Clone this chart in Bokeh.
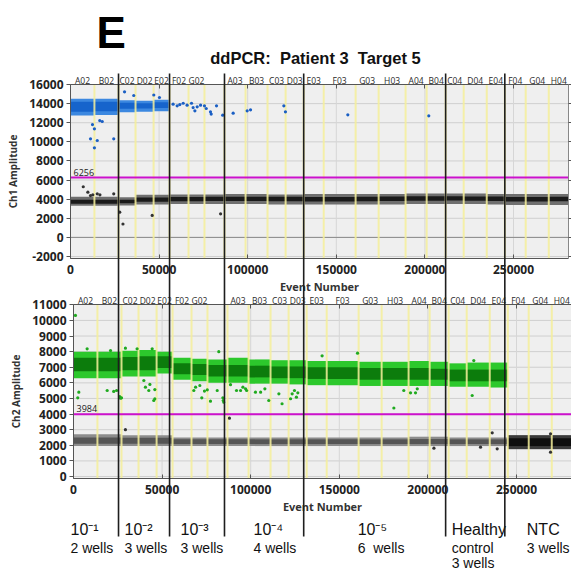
import numpy as np
from bokeh.plotting import figure
from bokeh.models import Range1d, LinearAxis, FixedTicker, NumeralTickFormatter
from bokeh.embed import file_html
from bokeh.resources import INLINE
from bokeh.core.properties import value

# ---------------------------------------------------------------- data
wells = ["A02", "B02", "C02", "D02", "E02", "F02", "G02", "H02",
         "A03", "B03", "C03", "D03", "E03", "F03", "G03", "H03",
         "A04", "B04", "C04", "D04", "E04", "F04", "G04", "H04"]
well_labels = ["A02", "B02", "C02", "D02", "E02", "F02", "G02", "",
               "A03", "B03", "C03", "D03", "E03", "F03", "G03", "H03",
               "A04", "B04", "C04", "D04", "E04", "F04", "G04", "H04"]
well_events = [13500, 13600, 9600, 10200, 9000, 10700, 9000, 11300,
               11900, 12400, 10200, 10200, 11300, 18000, 13000, 15200,
               11900, 10700, 10200, 13000, 10200, 11800, 13000, 11300]

groups = ["10⁻¹", "10⁻²", "10⁻³", "10⁻⁴", "10⁻⁵", "Healthy", "NTC"]
group_line2 = ["2 wells", "3 wells", "3 wells", "4 wells", "6\u00a0 wells", "control", "3 wells"]
group_line3 = ["", "", "", "", "", "3 wells", ""]
group_well_counts = [2, 3, 3, 4, 6, 3, 3]

ch1_ticks = [-2000, 0, 2000, 4000, 6000, 8000, 10000, 12000, 14000, 16000]
ch2_ticks = [0, 1000, 2000, 3000, 4000, 5000, 6000, 7000, 8000, 9000, 10000, 11000]
event_ticks = [0, 50000, 100000, 150000, 200000, 250000]
ch1_threshold = 6256
ch2_threshold = 3984

# Ch1 positive (blue) cluster, wells A02..E02
ch1_pos_low = [12750, 12800, 13100, 13150, 13200]
ch1_pos_high = [14500, 14500, 14350, 14300, 14400]
ch1_pos_core_low = [13150, 13200, 13450, 13500, 13550]
ch1_pos_core_high = [14200, 14200, 14100, 14050, 14150]

# Ch1 negative (black) cluster, all 24 wells
ch1_neg_low = [3300, 3300, 3350, 3450, 3450, 3500, 3500, 3500,
               3500, 3500, 3450, 3450, 3450, 3450, 3450, 3450,
               3500, 3500, 3500, 3500, 3450, 3400, 3400, 3400]
ch1_neg_high = [4250, 4250, 4200, 4450, 4450, 4500, 4500, 4500,
                4550, 4550, 4500, 4500, 4550, 4550, 4550, 4550,
                4600, 4600, 4600, 4600, 4550, 4550, 4550, 4550]
ch1_neg_core_low = [3520, 3520, 3580, 3720, 3720, 3780, 3780, 3800,
                    3800, 3800, 3780, 3780, 3760, 3760, 3780, 3800,
                    3830, 3830, 3850, 3830, 3800, 3760, 3760, 3780]
ch1_neg_core_high = [3950, 3950, 3950, 4180, 4180, 4230, 4230, 4250,
                     4260, 4260, 4250, 4250, 4240, 4240, 4260, 4270,
                     4300, 4300, 4310, 4290, 4270, 4240, 4240, 4260]

# Ch2 positive (green) cluster, wells A02..E04
ch2_pos_low = [6300, 6300, 6400, 6400, 6600, 6200, 6100, 6000,
               6000, 5950, 5950, 5900, 5850, 5850, 5800, 5800,
               5800, 5800, 5750, 5750, 5700]
ch2_pos_high = [8000, 8000, 8050, 8100, 8000, 7600, 7550, 7500,
                7600, 7500, 7450, 7450, 7400, 7400, 7350, 7350,
                7400, 7350, 7250, 7300, 7300]
ch2_pos_core_low = [6750, 6750, 6800, 6800, 6950, 6550, 6500, 6400,
                    6400, 6350, 6300, 6300, 6250, 6250, 6200, 6200,
                    6200, 6200, 6100, 6100, 6100]
ch2_pos_core_high = [7600, 7600, 7650, 7700, 7700, 7250, 7200, 7150,
                     7150, 7100, 7050, 7050, 7000, 7000, 6950, 6950,
                     6950, 6900, 6850, 6850, 6850]

# Ch2 negative (grey) cluster, all 24 wells
ch2_neg_low = [1950, 1950, 1950, 1950, 1950, 1950, 1950, 1950,
               1950, 1950, 1950, 1950, 1950, 1950, 1950, 1950,
               1950, 1950, 1950, 1950, 1950, 1750, 1750, 1750]
ch2_neg_high = [2700, 2700, 2650, 2650, 2650, 2500, 2500, 2500,
                2500, 2500, 2500, 2500, 2500, 2500, 2500, 2500,
                2550, 2550, 2500, 2500, 2500, 2650, 2650, 2650]
ch2_neg_core_low = [2100, 2100, 2100, 2100, 2100, 2080, 2080, 2080,
                    2080, 2080, 2080, 2080, 2080, 2080, 2080, 2080,
                    2080, 2080, 2080, 2080, 2080, 1950, 1950, 1950]
ch2_neg_core_high = [2500, 2500, 2480, 2480, 2480, 2380, 2380, 2380,
                     2380, 2380, 2380, 2380, 2380, 2380, 2380, 2380,
                     2400, 2400, 2380, 2380, 2380, 2450, 2450, 2450]

# scattered droplets (event number, amplitude)
ch1_pos_x = [12400, 13500, 16500, 11300, 15100, 13500, 24400, 17900,
             30500, 35700, 47000, 50200, 57900, 60200, 61700, 63600,
             65800, 68300, 69200, 70200, 71500, 73400, 75600, 76600,
             79000, 79400, 82400, 85900, 91800, 99700, 101600, 120400,
             121300, 156500, 202200]
ch1_pos_y = [11810, 11360, 12230, 10320, 10140, 9370, 10320, 12130,
             15230, 14850, 14900, 14640, 13940, 13770, 13900, 14040,
             13840, 14040, 13590, 13250, 13660, 13840, 13770, 13490,
             13140, 12900, 13770, 12790, 13000, 13240, 13350, 13770,
             13140, 12830, 12720]
ch1_neg_x = [7200, 9800, 12600, 15100, 16600, 11300, 24400, 29600, 27800, 46100, 84700]
ch1_neg_y = [5300, 4730, 4450, 4560, 4450, 4380, 4560, 1400, 2640, 2300, 2470]

ch2_pos_x = [1100, 3000, 2400, 19000, 24300, 26100, 27100, 22700, 26500,
             39700, 40600, 42500, 43100, 45900, 45900, 45300, 67900, 68900,
             71300, 73900, 75500, 72400, 77300, 81100, 84300, 84800, 82000,
             97100, 102700, 110200, 117700, 88600, 92000, 94300, 95600, 97700,
             105600, 108000, 115900, 122500, 123400, 124700, 125800, 126600,
             140300, 160300, 180800, 186400, 190200, 193000, 194000, 225900,
             225000, 84500, 7700, 20900, 29300, 35900, 44400]
ch2_pos_y = [10320, 5400, 5040, 5510, 5510, 5125, 5040, 5450, 5020,
             6150, 5720, 5510, 5900, 5570, 4980, 4870, 5510, 5720,
             5830, 5470, 5555, 5040, 4825, 5510, 5040, 4760, 8000,
             5620, 5400, 4870, 4660, 5880, 5510, 5510, 5720, 5510,
             5400, 5620, 5300, 4980, 5300, 5510, 5080, 5360,
             7730, 7900, 4390, 5510, 5360, 5360, 5620, 7430,
             5190, 4870, 8180, 8070, 8220, 8180, 8180]
ch2_neg_x = [29300, 236300, 203400, 229700, 239100, 269200, 269200, 88000]
ch2_neg_y = [3000, 2800, 1815, 1880, 1775, 2740, 1560, 3740]

# ---------------------------------------------------------------- layout (pixels)
W, H = 571, 569
XK = 1.772 / 1000.0            # px per event
X0_TOP, X0_BOT = 70.0, 73.0    # px of event 0 in each panel
TOP_REF_PX, TOP_REF_VAL, TOP_K = 84.0, 16000.0, 0.009556
BOT_REF_PX, BOT_REF_VAL, BOT_K = 304.3, 11000.0, 0.01561


def top_x(px):
    return (px - X0_TOP) / XK


def bot_x(px):
    return (px - X0_BOT) / XK


def top_y(py):
    return TOP_REF_VAL + (TOP_REF_PX - py) / TOP_K


def bot_y(py):
    return BOT_REF_VAL + (BOT_REF_PX - py) / BOT_K


CH1_BOTTOM, CH1_TOP = -2250, 16000
CH2_BOTTOM, CH2_TOP = -150, 11000

FONT = "Open Sans"
ARIAL = "Liberation Sans"

p = figure(width=W, height=H, output_backend="svg", toolbar_location=None,
           x_range=Range1d(top_x(0), top_x(W)), y_range=Range1d(top_y(H), top_y(0)),
           x_axis_location=None, y_axis_location=None, min_border=0,
           title=None, outline_line_color=None,
           background_fill_color="white", border_fill_color="white")
p.extra_x_ranges = {"xb": Range1d(bot_x(0), bot_x(W))}
p.extra_y_ranges = {"yb": Range1d(bot_y(H), bot_y(0))}
p.grid.visible = False

ends = np.cumsum(well_events)
starts = ends - np.array(well_events)
centers = (starts + ends) / 2.0
XMAX = float(ends[-1])
inner = ends[:-1]
gidx = np.cumsum(group_well_counts)
group_start = np.array([0.0] + [float(ends[i - 1]) for i in gidx[:-1]])
group_end = np.array([float(ends[i - 1]) for i in gidx])

BG = "#efefef"
GRID = "#cfcfcf"
YELLOW = "#f4ef9a"


def panel(xr, yr, ybot, ytop, yticks):
    kw = {}
    if xr:
        kw["x_range_name"] = xr
    if yr:
        kw["y_range_name"] = yr
    p.quad(left=0, right=XMAX, bottom=ybot, top=ytop, fill_color=BG, line_color=None, **kw)
    hy = [t for t in yticks if ybot < t < ytop]
    p.segment(x0=[0] * len(hy), x1=[XMAX] * len(hy), y0=hy, y1=hy, line_color=GRID, line_width=1, **kw)
    vx = [t for t in event_ticks if t > 0]
    p.segment(x0=vx, x1=vx, y0=[ybot] * len(vx), y1=[ytop] * len(vx), line_color="#d6d6d6", line_width=1, **kw)
    return kw


kt = panel(None, None, CH1_BOTTOM, CH1_TOP, ch1_ticks)
p.segment(x0=[0], x1=[XMAX], y0=[0], y1=[0], line_color="#8a8a8a", line_width=1)
kb = panel("xb", "yb", CH2_BOTTOM, CH2_TOP, ch2_ticks)

ntc = np.array([g for g, n in zip(groups, group_well_counts) for _ in range(n)]) == "NTC"

# ---- Ch1 clusters
n1 = len(ch1_pos_low)
p.quad(left=starts[:n1], right=ends[:n1], bottom=ch1_pos_low, top=ch1_pos_high,
       fill_color="#3c88e0", line_color=None)
p.quad(left=starts[:n1], right=ends[:n1], bottom=ch1_pos_core_low, top=ch1_pos_core_high,
       fill_color="#1664cc", line_color=None)
p.quad(left=starts, right=ends, bottom=ch1_neg_low, top=ch1_neg_high,
       fill_color="#6f6f6f", line_color=None)
p.quad(left=starts, right=ends, bottom=ch1_neg_core_low, top=ch1_neg_core_high,
       fill_color="#1a1a1a", line_color=None)

# ---- Ch2 clusters
n2 = len(ch2_pos_low)
p.quad(left=starts[:n2], right=ends[:n2], bottom=ch2_pos_low, top=ch2_pos_high,
       fill_color="#2cc82c", line_color=None, **kb)
p.quad(left=starts[:n2], right=ends[:n2], bottom=ch2_pos_core_low, top=ch2_pos_core_high,
       fill_color="#0c7c0c", line_color=None, **kb)
neg_outer = np.where(ntc, "#3a3a3a", "#8c8c8c")
neg_core = np.where(ntc, "#0e0e0e", "#555555")
p.quad(left=starts, right=ends, bottom=ch2_neg_low, top=ch2_neg_high,
       fill_color=list(neg_outer), line_color=None, **kb)
p.quad(left=starts, right=ends, bottom=ch2_neg_core_low, top=ch2_neg_core_high,
       fill_color=list(neg_core), line_color=None, **kb)

# ---- yellow well boundaries
p.segment(x0=inner, x1=inner, y0=[CH1_BOTTOM] * len(inner), y1=[CH1_TOP] * len(inner),
          line_color=YELLOW, line_width=2, line_alpha=0.85)
p.segment(x0=inner, x1=inner, y0=[CH2_BOTTOM] * len(inner), y1=[CH2_TOP] * len(inner),
          line_color=YELLOW, line_width=2, line_alpha=0.85, **kb)

# ---- scattered droplets
p.scatter(ch1_pos_x, ch1_pos_y, size=3.2, fill_color="#1a5fc4", line_color=None)
p.scatter(ch1_neg_x, ch1_neg_y, size=3.2, fill_color="#333333", line_color=None)
p.scatter(ch2_pos_x, ch2_pos_y, size=3.2, fill_color="#1faa1f", line_color=None, **kb)
p.scatter(ch2_neg_x, ch2_neg_y, size=3.2, fill_color="#333333", line_color=None, **kb)

# ---- thresholds
MAG = "#cc11cc"
p.segment(x0=[0], x1=[XMAX], y0=[ch1_threshold], y1=[ch1_threshold], line_color=MAG, line_width=2)
p.segment(x0=[0], x1=[XMAX], y0=[ch2_threshold], y1=[ch2_threshold], line_color=MAG, line_width=2, **kb)
p.text(x=[0], y=[ch1_threshold], text=[str(ch1_threshold)], x_offset=3, y_offset=-2,
       text_font=value(FONT), text_font_size="9px", text_color="#222222",
       text_baseline="bottom", text_align="left")
p.text(x=[0], y=[ch2_threshold], text=[str(ch2_threshold)], x_offset=3, y_offset=-2,
       text_font=value(FONT), text_font_size="9px", text_color="#222222",
       text_baseline="bottom", text_align="left", **kb)

# ---- well labels
p.text(x=centers, y=[top_y(79.5)] * len(wells), text=well_labels, text_font=value(FONT),
       text_font_size="8.5px", text_color="#2a2a2a", text_align="center", text_baseline="middle")
p.text(x=centers, y=[bot_y(299.5)] * len(wells), text=well_labels, text_font=value(FONT),
       text_font_size="8.5px", text_color="#2a2a2a", text_align="center", text_baseline="middle", **kb)


# ---- axes
def style_axis(ax, label_size="10px"):
    ax.formatter = NumeralTickFormatter(format="0")
    ax.major_label_text_font = FONT
    ax.major_label_text_font_style = "bold"
    ax.major_label_text_font_size = "12px"
    ax.major_label_text_color = "#222222"
    ax.axis_label_text_font = FONT
    ax.axis_label_text_font_style = "bold"
    ax.axis_label_text_font_size = label_size
    ax.axis_label_text_color = "#333333"
    ax.axis_line_color = "#555555"
    ax.major_tick_line_color = "#555555"
    ax.minor_tick_line_color = None


for (xr, yr, yt, yb, yticks, lab) in [(None, None, CH1_TOP, CH1_BOTTOM, ch1_ticks, "Ch1 Amplitude"),
                                       ("xb", "yb", CH2_TOP, CH2_BOTTOM, ch2_ticks, "Ch2 Amplitude")]:
    kw = {}
    if xr:
        kw = dict(x_range_name=xr, y_range_name=yr)
    ya = LinearAxis(ticker=FixedTicker(ticks=yticks), fixed_location=0, bounds=(yb, yt),
                    axis_label=lab, major_tick_in=0, major_tick_out=4,
                    major_label_standoff=3, axis_label_standoff=6, **kw)
    style_axis(ya)
    p.add_layout(ya, "left")
    yra = LinearAxis(ticker=FixedTicker(ticks=yticks), fixed_location=XMAX, bounds=(yb, yt),
                     major_tick_in=0, major_tick_out=3, **kw)
    style_axis(yra)
    yra.major_label_text_color = None
    yra.axis_line_color = "#888888"
    p.add_layout(yra, "right")
    xa = LinearAxis(ticker=FixedTicker(ticks=event_ticks), fixed_location=yb, bounds=(0, XMAX),
                    axis_label="Event Number", major_tick_in=4, major_tick_out=0,
                    major_label_standoff=6, axis_label_standoff=2, **kw)
    style_axis(xa, "11px")
    p.add_layout(xa, "below")
    xt = LinearAxis(ticker=FixedTicker(ticks=event_ticks), fixed_location=yt, bounds=(0, XMAX),
                    major_tick_in=4, major_tick_out=0, **kw)
    style_axis(xt)
    xt.major_label_text_color = None
    p.add_layout(xt, "above")

# ---- titles
p.text(x=[top_x(96)], y=[top_y(32)], text=["E"], text_font=value(ARIAL), text_font_style="bold",
       text_font_size="44px", text_color="black", text_align="left", text_baseline="middle")
p.text(x=[top_x(315)], y=[top_y(57)], text=["ddPCR:\u00a0 Patient 3\u00a0 Target 5"], text_font=value(ARIAL),
       text_font_style="bold", text_font_size="16.5px", text_color="#111111",
       text_align="center", text_baseline="middle")

# ---- group annotation under the chart
pad = [0, 6, 11, 29, 54, 6, 22]
gx = group_start + np.array([top_x(X0_TOP + d) for d in pad])
p.text(x=gx, y=[top_y(529)] * len(groups), text=groups, text_font=value(ARIAL),
       text_font_size="16px", text_color="#111111", text_align="left", text_baseline="middle")
p.text(x=gx, y=[top_y(547)] * len(groups), text=group_line2, text_font=value(ARIAL),
       text_font_size="14px", text_color="#111111", text_align="left", text_baseline="middle")
p.text(x=gx, y=[top_y(562)] * len(groups), text=group_line3, text_font=value(ARIAL),
       text_font_size="14px", text_color="#111111", text_align="left", text_baseline="middle")

# ---- group separators (drawn through both panels and the legend strip)
seps = group_end[:-1]
p.segment(x0=seps, x1=seps, y0=[top_y(73)] * len(seps), y1=[top_y(536)] * len(seps),
          line_color="#1e1e1e", line_width=1.6, level="overlay")

open("out.html", "w").write(file_html(p, INLINE))
